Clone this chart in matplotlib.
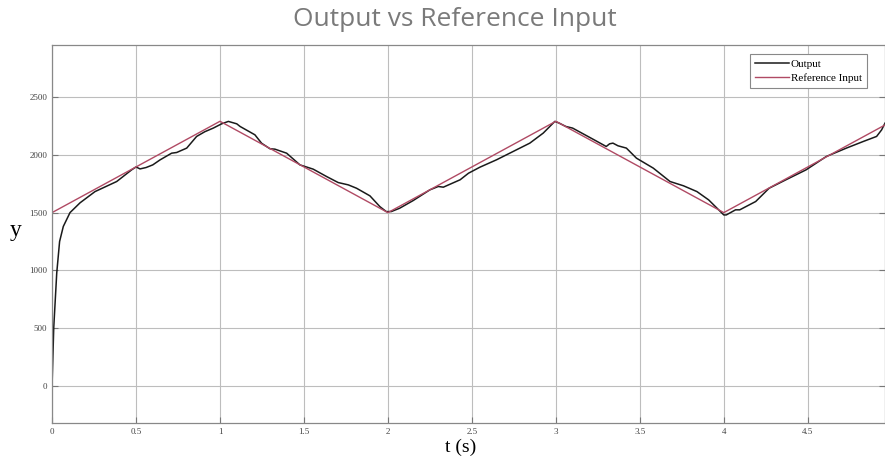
import numpy as np
import matplotlib.pyplot as plt

# reference input: triangle wave corners
ref_t = [0, 1, 2, 3, 4, 4.96]
ref_y = [1500, 2290, 1500, 2290, 1500, 2258]

out_t = [0, 0.01, 0.028, 0.045, 0.067, 0.107, 0.167, 0.256, 0.385, 0.474, 0.50, 0.524,
         0.56, 0.60, 0.643, 0.712, 0.742, 0.802, 0.861, 0.91, 0.96, 1.01, 1.05, 1.1,
         1.12, 1.208, 1.248, 1.298, 1.327, 1.397, 1.476, 1.555, 1.635, 1.704, 1.764,
         1.813, 1.893, 1.952, 1.99, 2.02, 2.07, 2.15, 2.25, 2.30, 2.33, 2.43, 2.48,
         2.548, 2.647, 2.746, 2.845, 2.925, 2.964, 2.994, 3.02, 3.06, 3.10, 3.22,
         3.30, 3.32, 3.34, 3.37, 3.42, 3.48, 3.58, 3.68, 3.76, 3.84, 3.91, 3.96,
         4.0, 4.015, 4.07, 4.095, 4.19, 4.27, 4.37, 4.49, 4.61, 4.73, 4.83, 4.91,
         4.94, 4.96]
out_y = [0, 500, 978, 1250, 1380, 1500, 1585, 1682, 1769, 1870, 1895, 1878,
         1890, 1913, 1956, 2014, 2020, 2058, 2159, 2200, 2231, 2268, 2289, 2268,
         2245, 2173, 2100, 2052, 2049, 2014, 1913, 1876, 1812, 1760, 1740,
         1711, 1645, 1552, 1509, 1509, 1538, 1604, 1697, 1726, 1720, 1784, 1841,
         1893, 1957, 2029, 2101, 2188, 2245, 2289, 2274, 2245, 2231, 2136,
         2072, 2095, 2101, 2078, 2058, 1971, 1885, 1769, 1732, 1682, 1610, 1538,
         1480, 1480, 1524, 1524, 1596, 1711, 1784, 1870, 1985, 2058, 2115, 2159,
         2216, 2274]

x_ticks = [0, 0.5, 1, 1.5, 2, 2.5, 3, 3.5, 4, 4.5]
x_labels = ["0", "0.5", "1", "1.5", "2", "2.5", "3", "3.5", "4", "4.5"]
y_ticks = [0, 500, 1000, 1500, 2000, 2500]


def main():
    fig = plt.figure(figsize=(8.85, 4.76), dpi=100)
    ax = fig.add_axes([0.0588, 0.1113, 0.9412, 0.7942])

    ax.plot(out_t, out_y, color="#1a1a1a", lw=1.1, label="Output")
    ax.plot(ref_t, ref_y, color="#b04a64", lw=1.0, label="Reference Input")

    ax.set_xlim(0, 4.96)
    ax.set_ylim(-320, 2950)
    ax.set_xticks(x_ticks)
    ax.set_xticklabels(x_labels)
    ax.set_yticks(y_ticks)
    ax.grid(True, color="#bdbdbd", lw=0.8)
    ax.tick_params(direction="in", length=4, color="#777777", labelsize=6.5,
                   labelcolor="#444444", right=True)
    for lab in ax.get_xticklabels() + ax.get_yticklabels():
        lab.set_family("Liberation Serif")
    for sp in ax.spines.values():
        sp.set_color("#888888")
        sp.set_linewidth(0.9)

    fig.text(0.514, 0.96, "Output vs Reference Input", ha="center", va="center",
             fontsize=19, color="#7a7a7a", family="Open Sans")
    fig.text(0.018, 0.515, "y", ha="center", va="center", fontsize=17,
             family="Liberation Serif")
    fig.text(0.52, 0.06, "t (s)", ha="center", va="center", fontsize=14,
             family="Liberation Serif")

    leg = ax.legend(loc="upper right", bbox_to_anchor=(0.985, 0.99),
                    prop={"family": "Liberation Serif", "size": 8},
                    fancybox=False, framealpha=1, edgecolor="#888888",
                    handlelength=3, handletextpad=0.2, borderpad=0.45,
                    labelspacing=0.35)
    leg.get_frame().set_linewidth(0.8)

    plt.savefig("out.png", dpi=100)
    plt.close()


if __name__ == "__main__":
    main()
